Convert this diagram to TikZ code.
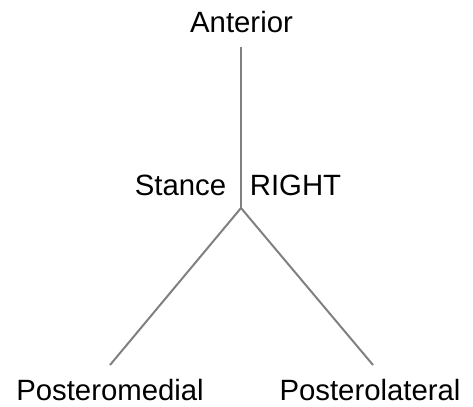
\documentclass[tikz,border=0pt]{standalone}
\usepackage{fontspec}
\setmainfont{Liberation Sans}
\begin{document}
\begin{tikzpicture}[x=0.75pt,y=-0.75pt,every node/.style={font=\fontsize{22}{26}\selectfont,inner sep=0pt,anchor=base},
  limb/.style={draw=black!50,line width=1.5pt}]
\useasboundingbox (0,0) rectangle (473,406);
\node (ant) at (241.5,33) {Anterior};
\node (stance) at (180.5,195) {Stance};
\node (right) at (295.5,195) {RIGHT};
\node (pmed) at (110,400) {Posteromedial};
\node (plat) at (370,400) {Posterolateral};
\coordinate (top) at (241,47);
\coordinate (hub) at (241,208);
\coordinate (lend) at (110,365);
\coordinate (rend) at (373,365);
\draw[limb] (top)--(hub);
\draw[limb] (hub)--(lend);
\draw[limb] (hub)--(rend);
\end{tikzpicture}
\end{document}
